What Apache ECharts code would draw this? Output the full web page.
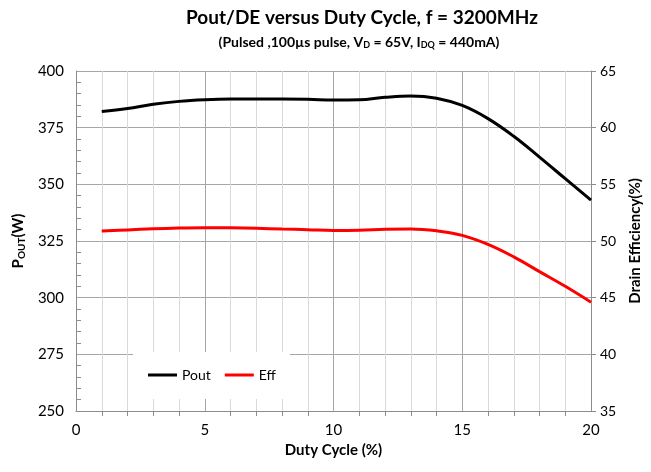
<!DOCTYPE html>
<html>
<head>
  <meta http-equiv="Content-Type" content="text/html; charset=utf-8"/>
  <title>Pout/DE versus Duty Cycle</title>
  <script src="https://cdn.jsdelivr.net/npm/echarts@6/dist/echarts.min.js"></script>
  <style>
    html, body { margin: 0; padding: 0; background: #fff; }
    #chart { width: 651px; height: 472px; }
  </style>
</head>
<body>
<div id="chart"></div>
<script type="text/javascript">
var duty = [1, 2, 3, 4, 5, 6, 7, 8, 9, 10, 11, 12, 13, 14, 15, 16, 17, 18, 19, 20];
var pout = [382.1, 383.5, 385.3, 386.6, 387.3, 387.6, 387.6, 387.6, 387.5, 387.2, 387.3, 388.4, 389.0, 388.0, 384.8, 379.0, 371.2, 362.0, 352.5, 343.0];
var eff = [50.88, 50.98, 51.07, 51.14, 51.18, 51.16, 51.12, 51.06, 51.0, 50.93, 50.95, 51.03, 51.06, 50.9, 50.5, 49.7, 48.6, 47.3, 46.0, 44.6];
var xTicks = [0, 5, 10, 15, 20];

var font = 'Lato, "Open Sans", sans-serif';

function pairs(xs, ys) {
  var out = [];
  for (var i = 0; i < xs.length; i++) {
    out.push([xs[i], ys[i]]);
  }
  return out;
}

var chart = echarts.init(document.getElementById('chart'));
var option = {
  backgroundColor: '#fff',
  animation: false,
  textStyle: { fontFamily: font },
  title: [
    {
      text: 'Pout/DE versus Duty Cycle, f = 3200MHz',
      left: 357, top: 3, textAlign: 'center',
      textStyle: { fontFamily: font, fontSize: 19, fontWeight: 'bold', color: '#000' }
    },
    {
      text: '{t|(Pulsed ,100µs pulse, V}{s|D}{t| = 65V, I}{s|DQ}{t| = 440mA)}',
      left: 354, top: 29, textAlign: 'center',
      textStyle: {
        fontFamily: font,
        rich: {
          t: { fontSize: 14, fontWeight: 'bold', color: '#000', fontFamily: font },
          s: { fontSize: 9, fontWeight: 'bold', color: '#000', fontFamily: font, padding: [7, 0, 0, 0] }
        }
      }
    }
  ],
  legend: {
    left: 133, top: 352,
    backgroundColor: '#fff',
    padding: [16, 14, 17, 15],
    itemWidth: 29, itemHeight: 3, itemGap: 14,
    icon: 'rect',
    textStyle: { fontFamily: font, fontSize: 14, color: '#000' },
    data: ['Pout', 'Eff']
  },
  grid: { left: 76, right: 59, top: 71, bottom: 61 },
  xAxis: {
    type: 'value', min: 0, max: 20, interval: 5,
    name: 'Duty Cycle (%)', nameLocation: 'middle', nameGap: 30,
    nameTextStyle: { fontFamily: font, fontSize: 15, fontWeight: 'bold', color: '#000' },
    axisLine: { show: true, lineStyle: { color: '#8c8c8c', width: 1 } },
    axisTick: { show: false },
    minorTick: { show: true, splitNumber: 5, length: 5, lineStyle: { color: '#8c8c8c' } },
    splitLine: { show: true, lineStyle: { color: '#a6a6a6', width: 1 } },
    minorSplitLine: { show: true, lineStyle: { color: '#d9d9d9', width: 1 } },
    axisLabel: {
      fontFamily: font, fontSize: 15, color: '#000', margin: 12,
      formatter: function (v) { return xTicks.indexOf(v) >= 0 ? String(v) : ''; }
    }
  },
  yAxis: [
    {
      type: 'value', min: 250, max: 400, interval: 25,
      name: '{t|P}{s|OUT}{t|(W)}', nameLocation: 'middle', nameGap: 44, nameRotate: 90,
      nameTextStyle: {
        rich: {
          t: { fontSize: 15, fontWeight: 'bold', color: '#000', fontFamily: font },
          s: { fontSize: 10, fontWeight: 'bold', color: '#000', fontFamily: font, padding: [7, 0, 0, 0] }
        }
      },
      axisLine: { show: true, lineStyle: { color: '#8c8c8c', width: 1 } },
      axisTick: { show: false, inside: true },
      minorTick: { show: true, splitNumber: 5, length: 5, lineStyle: { color: '#8c8c8c' } },
      splitLine: { show: true, lineStyle: { color: '#a6a6a6', width: 1 } },
      axisLabel: { fontFamily: font, fontSize: 15, color: '#000', margin: 12 }
    },
    {
      type: 'value', min: 35, max: 65, interval: 5, position: 'right',
      name: 'Drain Efficiency(%)', nameLocation: 'middle', nameGap: 37, nameRotate: 90,
      nameTextStyle: { fontFamily: font, fontSize: 15, fontWeight: 'bold', color: '#000' },
      axisLine: { show: true, lineStyle: { color: '#8c8c8c', width: 1 } },
      axisTick: { show: true, length: 5, lineStyle: { color: '#8c8c8c' } },
      splitLine: { show: false },
      axisLabel: { fontFamily: font, fontSize: 14, color: '#000', margin: 9 }
    }
  ],
  series: [
    {
      name: 'Pout', type: 'line', yAxisIndex: 0,
      data: pairs(duty, pout),
      smooth: 0.4, showSymbol: false, symbol: 'none',
      lineStyle: { color: '#000', width: 3 },
      itemStyle: { color: '#000' }
    },
    {
      name: 'Eff', type: 'line', yAxisIndex: 1,
      data: pairs(duty, eff),
      smooth: 0.4, showSymbol: false, symbol: 'none',
      lineStyle: { color: '#ff0000', width: 3 },
      itemStyle: { color: '#ff0000' }
    }
  ]
};
chart.setOption(option);
</script>
</body>
</html>
